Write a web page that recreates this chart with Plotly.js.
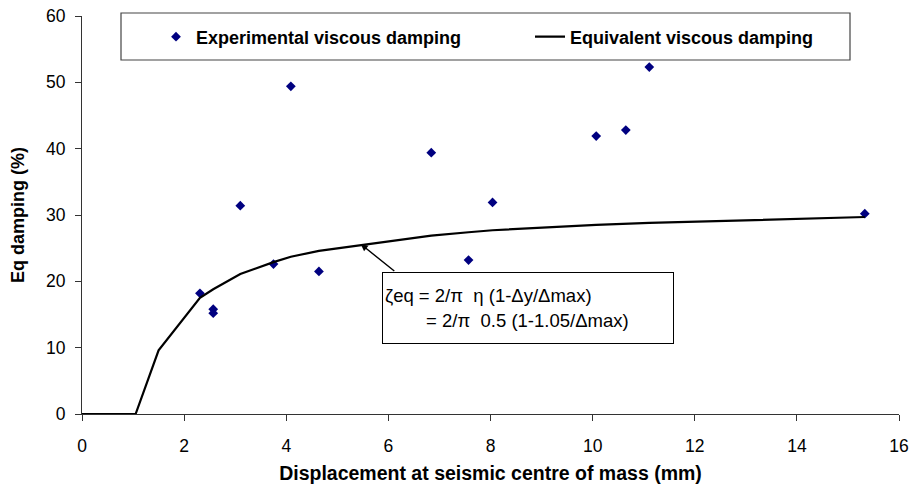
<!DOCTYPE html>
<html>
<head>
<meta charset="utf-8">
<script src="https://cdn.plot.ly/plotly-3.0.1.min.js"></script>
<style>
  html, body { margin: 0; padding: 0; background: #fff; }
  #chart { width: 912px; height: 490px; }
</style>
</head>
<body>
<div id="chart"></div>
<script>
// Measured damping at each test displacement (mm, %)
var expX = [2.31, 2.57, 2.57, 3.10, 3.75, 4.09, 4.64, 6.84, 7.57, 8.04, 10.07, 10.65, 11.11, 15.33];
var expY = [18.2, 15.8, 15.2, 31.4, 22.6, 49.4, 21.5, 39.4, 23.2, 31.9, 41.9, 42.8, 52.3, 30.2];

// Equivalent viscous damping curve, zeq = 2/pi * 0.5 * (1 - 1.05/dmax)
var eqX = [0, 1.05, 1.5, 2.31, 2.57, 3.10, 3.75, 4.09, 4.64, 6.84, 7.57, 8.04, 10.07, 10.65, 11.11, 15.33];
var eqY = [0, 0, 9.6, 17.5, 18.8, 21.1, 22.9, 23.7, 24.6, 26.9, 27.4, 27.7, 28.5, 28.7, 28.8, 29.7];

var xTicks = [0, 2, 4, 6, 8, 10, 12, 14, 16];
var yTicks = [0, 10, 20, 30, 40, 50, 60];

var seriesNames = ['Experimental viscous damping', 'Equivalent viscous damping'];
var xTitle = 'Displacement at seismic centre of mass (mm)';
var yTitle = 'Eq damping (%)';
var formulaLines = [
  '\u03B6eq = 2/\u03C0  \u03B7 (1-\u0394y/\u0394max)',
  '\u00A0\u00A0\u00A0\u00A0\u00A0\u00A0\u00A0\u00A0= 2/\u03C0  0.5 (1-1.05/\u0394max)'
];

var FONT = 'Arial, "Liberation Sans", sans-serif';

// plot area in pixels: left 82, right 899, top 16, bottom 414
var PL = 82, PW = 817, PT = 16, PH = 398;
function px2paperX(p) { return (p - PL) / PW; }
function px2paperY(p) { return (PT + PH - p) / PH; }

var traces = [
  {
    x: expX, y: expY, name: seriesNames[0],
    type: 'scatter', mode: 'markers',
    marker: { symbol: 'diamond', size: 7.5, color: '#000080' },
    cliponaxis: false, legend: 'legend'
  },
  {
    x: eqX, y: eqY, name: seriesNames[1],
    type: 'scatter', mode: 'lines',
    line: { color: '#000000', width: 2.2 },
    cliponaxis: false, legend: 'legend2'
  }
];

var axisCommon = {
  showgrid: false, zeroline: false,
  showline: true, linecolor: '#333', linewidth: 1,
  ticks: 'outside', ticklen: 6, tickcolor: '#333', tickwidth: 1,
  tickfont: { family: FONT, size: 17.5, color: '#000' }
};

function legendAt(pxX) {
  return {
    orientation: 'h',
    xref: 'paper', yref: 'paper',
    x: px2paperX(pxX), xanchor: 'left',
    y: px2paperY(37), yanchor: 'middle',
    bgcolor: 'rgba(0,0,0,0)', borderwidth: 0,
    font: { family: FONT, size: 18, color: '#000', weight: 'bold' }
  };
}

var layout = {
  width: 912, height: 490,
  margin: { l: PL, r: 912 - PL - PW, t: PT, b: 490 - PT - PH },
  paper_bgcolor: '#fff', plot_bgcolor: '#fff',
  font: { family: FONT, color: '#000' },
  xaxis: Object.assign({}, axisCommon, {
    range: [0, 16], tickvals: xTicks, ticktext: xTicks.map(String),
    ticklabelstandoff: 10,
    title: { text: '<b>' + xTitle + '</b>', font: { family: FONT, size: 19.5, color: '#000' }, standoff: 11 }
  }),
  yaxis: Object.assign({}, axisCommon, {
    range: [0, 60], tickvals: yTicks, ticktext: yTicks.map(String),
    ticklabelstandoff: 6,
    title: { text: '<b>' + yTitle + '</b>', font: { family: FONT, size: 18, color: '#000' }, standoff: 16 }
  }),
  showlegend: true,
  legend: legendAt(156),
  legend2: legendAt(530),
  shapes: [
    {
      type: 'rect', xref: 'paper', yref: 'paper',
      x0: px2paperX(121), x1: px2paperX(850),
      y0: px2paperY(60), y1: px2paperY(13),
      line: { color: '#444', width: 1.2 }, fillcolor: 'rgba(0,0,0,0)',
      layer: 'below'
    }
  ],
  annotations: [
    {
      // text box holding the damping formula
      xref: 'x', yref: 'y', x: 5.875, y: 21.43,
      xanchor: 'left', yanchor: 'top',
      text: formulaLines.join('<br>'),
      showarrow: false, align: 'left', valign: 'middle',
      width: 286, height: 66, borderpad: 2,
      bordercolor: '#000', borderwidth: 1, bgcolor: '#fff',
      font: { family: FONT, size: 18.5, color: '#000' }
    },
    {
      // pointer from the formula box to the curve
      xref: 'x', yref: 'y', x: 5.46, y: 25.6,
      ax: 35, ay: 28, axref: 'pixel', ayref: 'pixel',
      text: ' ', font: { size: 1 },
      showarrow: true, arrowhead: 2, arrowsize: 1, arrowwidth: 1.4,
      arrowcolor: '#000', standoff: 0, startstandoff: 0
    }
  ]
};

Plotly.newPlot('chart', traces, layout, { displayModeBar: false, staticPlot: true });
</script>
</body>
</html>
